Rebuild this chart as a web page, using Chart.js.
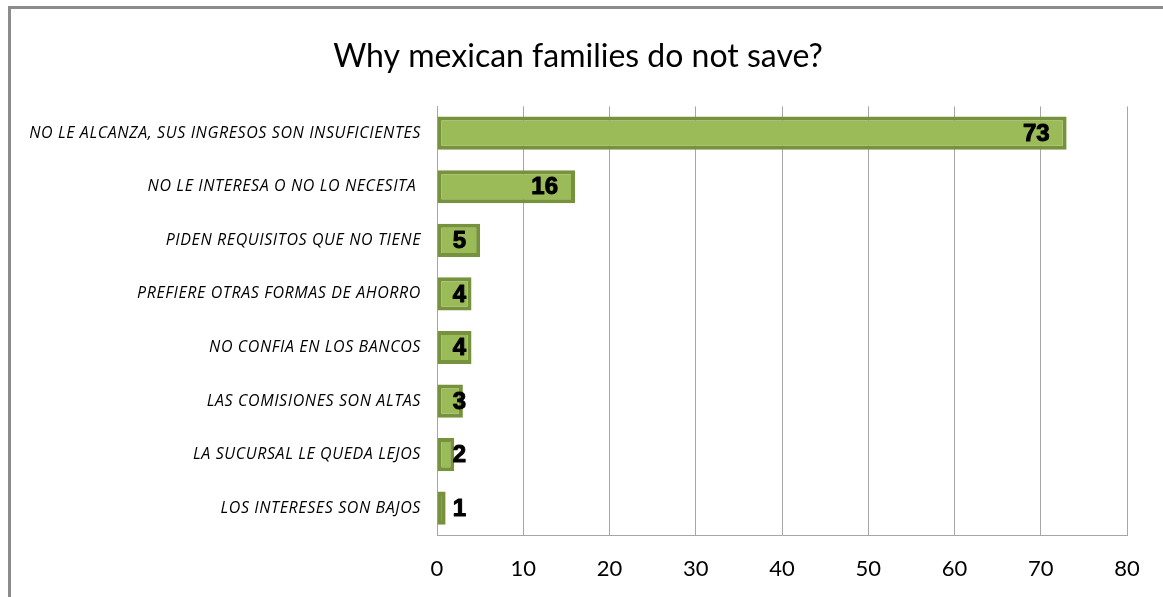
<!DOCTYPE html>
<html>
<head>
<meta charset="utf-8">
<script src="https://cdn.jsdelivr.net/npm/chart.js@4/dist/chart.umd.min.js"></script>
<style>
    html, body { margin: 0; padding: 0; background: #fff; overflow: hidden; }
    #wrap { position: relative; width: 1163px; height: 597px; }
    #frame {
        position: absolute; left: 8px; top: 6px; width: 1200px; height: 700px;
        border-top: 3px solid #8c8c8c; border-left: 3px solid #8c8c8c;
    }
    canvas { position: absolute; left: 0; top: 0; }
</style>
</head>
<body>
<div id="wrap">
    <div id="frame"></div>
    <canvas id="savingsChart" width="1163" height="597"></canvas>
</div>
<script>
// Survey reasons (top to bottom) and share of families
const reasons = [
    'NO LE ALCANZA, SUS INGRESOS SON INSUFICIENTES',
    'NO LE INTERESA O NO LO NECESITA ',
    'PIDEN REQUISITOS QUE NO TIENE',
    'PREFIERE OTRAS FORMAS DE AHORRO',
    'NO CONFIA EN LOS BANCOS',
    'LAS COMISIONES SON ALTAS',
    'LA SUCURSAL LE QUEDA LEJOS',
    'LOS INTERESES SON BAJOS'
];
const shares = [73, 16, 5, 4, 4, 3, 2, 1];
const xTicks = [0, 10, 20, 30, 40, 50, 60, 70, 80];

// Draw the value labels near the end of each bar
const valueLabels = {
    id: 'valueLabels',
    beforeDraw(chart) {
        // spread the category labels a little, like the original
        const y = chart.scales.y;
        if (y && !y._spaced) {
            const orig = y.drawLabels.bind(y);
            y.drawLabels = function(area) {
                const c = this.ctx;
                c.save();
                c.letterSpacing = '0.6px';
                orig(area);
                c.restore();
            };
            y._spaced = true;
        }
    },
    afterDatasetsDraw(chart) {
        const ctx = chart.ctx;
        const meta = chart.getDatasetMeta(0);
        const left = chart.chartArea.left;
        ctx.save();
        ctx.font = 'bold 24px "Liberation Sans"';
        ctx.fillStyle = '#000';
        ctx.strokeStyle = '#000';
        ctx.lineWidth = 1;
        ctx.lineJoin = 'round';
        ctx.textAlign = 'right';
        ctx.textBaseline = 'middle';
        meta.data.forEach((bar, i) => {
            const x = Math.max(bar.x - 17, left + 29);
            ctx.fillText(String(shares[i]), x, bar.y + 1);
            ctx.strokeText(String(shares[i]), x, bar.y + 1);
        });
        ctx.restore();
    }
};

const ctx = document.getElementById('savingsChart');
new Chart(ctx, {
    type: 'bar',
    data: {
        labels: reasons,
        datasets: [{
            data: shares,
            backgroundColor: '#9bbb59',
            borderColor: '#76923c',
            borderWidth: 4,
            borderSkipped: false,
            categoryPercentage: 1,
            barPercentage: 0.62
        }]
    },
    options: {
        indexAxis: 'y',
        responsive: false,
        animation: false,
        layout: { padding: { top: 0, right: 36, bottom: 0, left: 29 } },
        plugins: {
            legend: { display: false },
            tooltip: { enabled: false },
            title: {
                display: true,
                text: 'Why mexican families do not save?',
                color: '#000',
                font: { family: 'Lato', size: 32, weight: 'normal', lineHeight: 1.2 },
                padding: { top: 37, bottom: 31 }
            }
        },
        scales: {
            x: {
                min: 0,
                max: 80,
                afterBuildTicks(axis) {
                    axis.ticks = xTicks.map(v => ({ value: v }));
                },
                afterFit(axis) { axis.height = 62; },
                grid: { color: '#a6a6a6', lineWidth: 1, drawTicks: false },
                border: { color: '#a6a6a6', width: 1 },
                ticks: {
                    color: '#000',
                    padding: 21,
                    font: { family: 'Lato', size: 22 }
                }
            },
            y: {
                afterFit(axis) { axis.width = 408; },
                grid: { display: false, drawTicks: false },
                border: { color: '#a6a6a6', width: 1 },
                ticks: {
                    color: '#000',
                    padding: 16,
                    font: { family: 'Open Sans', size: 16, style: 'italic' }
                }
            }
        }
    },
    plugins: [valueLabels]
});
</script>
</body>
</html>
